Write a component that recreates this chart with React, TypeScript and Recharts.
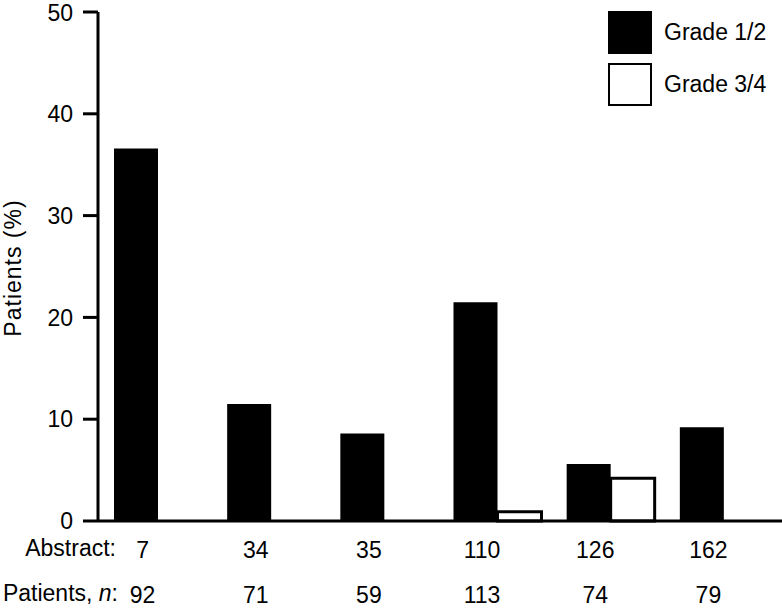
import { BarChart, Bar, XAxis, YAxis } from 'recharts';

const abstracts = ['7', '34', '35', '110', '126', '162'];
const patientsN = [92, 71, 59, 113, 74, 79];
const grade12 = [36.6, 11.5, 8.6, 21.5, 5.6, 9.2];
const grade34 = [0, 0, 0, 0.9, 4.2, 0];
const yTicks = [0, 10, 20, 30, 40, 50];

const FONT = '"Liberation Sans", Arial, Helvetica, sans-serif';
const FS = 23;

const data = abstracts.map((a, i) => ({
  abstract: a,
  n: patientsN[i],
  g12: grade12[i],
  g34: grade34[i],
}));

// two rows under each pair of bars: abstract number, then patient count
const XTick = (props: any) => {
  const { x, y, payload, index } = props;
  return (
    <g>
      <text x={x - 15} y={y + 37} textAnchor="middle" fontSize={FS} fontFamily={FONT} fill="#000">
        {payload.value}
      </text>
      <text x={x - 15} y={y + 82} textAnchor="middle" fontSize={FS} fontFamily={FONT} fill="#000">
        {patientsN[index]}
      </text>
    </g>
  );
};

export default function App() {
  return (
    <div style={{ position: 'absolute', left: 0, top: 0, width: 782, height: 609, background: '#fff' }}>
      <BarChart
        width={782}
        height={609}
        data={data}
        margin={{ top: 12, right: 0, left: 0, bottom: 0 }}
        barGap={0}
        barSize={44}
      >
        <XAxis
          dataKey="abstract"
          height={88}
          padding={{ left: 3, right: 2 }}
          axisLine={{ stroke: '#000', strokeWidth: 3 }}
          tickLine={false}
          tickSize={0}
          tickMargin={0}
          tick={<XTick />}
          interval={0}
        />
        <YAxis
          width={98}
          domain={[0, 50]}
          ticks={yTicks}
          axisLine={{ stroke: '#000', strokeWidth: 3 }}
          tickLine={{ stroke: '#000', strokeWidth: 3 }}
          tickSize={15}
          tickMargin={10}
          tick={{ fill: '#000', fontSize: FS, fontFamily: FONT }}
          label={{
            content: () => (
              <text
                x={0}
                y={0}
                transform="translate(21 268) rotate(-90)"
                textAnchor="middle"
                fontSize={FS}
                fontFamily={FONT}
                letterSpacing={1}
                fill="#000"
              >
                Patients (%)
              </text>
            ),
          }}
        />
        <Bar dataKey="g12" name="Grade 1/2" fill="#000" isAnimationActive={false} />
        <Bar dataKey="g34" name="Grade 3/4" fill="#fff" stroke="#000" strokeWidth={3} isAnimationActive={false} />
      </BarChart>
      <div style={{ position: 'absolute', left: 608, top: 11, fontFamily: FONT, fontSize: FS }}>
        <div style={{ display: 'flex', alignItems: 'center', height: 43, marginBottom: 9 }}>
          <div style={{ width: 44, height: 43, background: '#000' }} />
          <span style={{ marginLeft: 12 }}>Grade 1/2</span>
        </div>
        <div style={{ display: 'flex', alignItems: 'center', height: 43 }}>
          <div style={{ width: 40, height: 39, background: '#fff', border: '2px solid #000' }} />
          <span style={{ marginLeft: 12 }}>Grade 3/4</span>
        </div>
      </div>
      <div style={{ position: 'absolute', right: 782 - 116, top: 535, fontFamily: FONT, fontSize: FS, whiteSpace: 'nowrap' }}>
        Abstract:
      </div>
      <div style={{ position: 'absolute', right: 782 - 118, top: 580, fontFamily: FONT, fontSize: FS, whiteSpace: 'nowrap' }}>
        Patients, <i>n</i>:
      </div>
    </div>
  );
}
